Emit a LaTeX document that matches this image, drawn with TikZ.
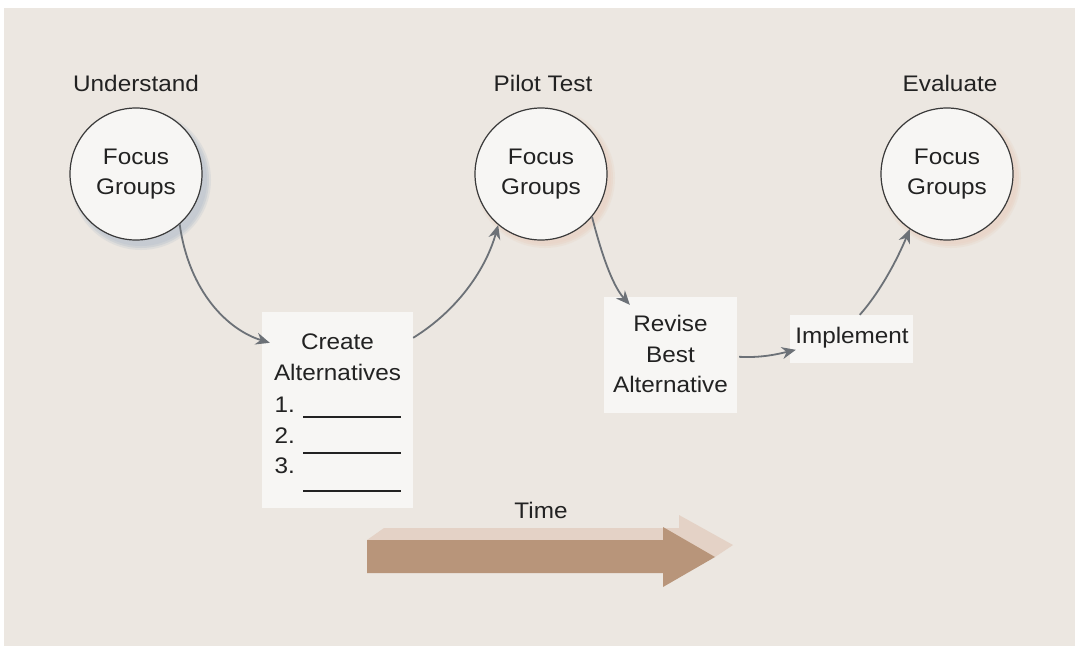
\documentclass[tikz,border=0pt]{standalone}
\usepackage{fontspec}
\setmainfont{Liberation Sans}[FakeStretch=1.08]
\usetikzlibrary{arrows.meta,calc}
\definecolor{bgbeige}{HTML}{ECE7E1}
\definecolor{paper}{HTML}{F7F6F4}
\definecolor{ink}{HTML}{222222}
\definecolor{ringline}{HTML}{3A3A3A}
\definecolor{linkgray}{HTML}{6C7177}
\definecolor{shadeblue}{HTML}{C6CBD2}
\definecolor{shadepeach}{HTML}{E9D6CA}
\definecolor{timedark}{HTML}{B8957A}
\definecolor{timelight}{HTML}{E4D2C6}
\begin{document}
\begin{tikzpicture}[x=1pt,y=1pt,
  every node/.style={text=ink, font=\fontsize{22.5}{30.5}\selectfont},
  focus/.style={circle, draw=ringline, line width=1.2pt, fill=paper,
    minimum size=132pt, inner sep=0pt, align=center},
  sheet/.style={rectangle, fill=paper, inner sep=0pt},
  stagelabel/.style={anchor=center},
  link/.style={draw=linkgray, line width=1.8pt,
    -{Stealth[length=14pt,width=12pt]}},
  blank/.style={draw=ink, line width=1.3pt}
]
\useasboundingbox (0,0) rectangle (1075,-646);
\fill[bgbeige] (4,-8) rectangle (1075,-646);

% soft shadows behind the focus-group circles
\foreach \r/\o in {70/0.35, 68/0.6, 66/1} {
  \fill[shadeblue, opacity=\o] (141,-180) circle (\r);
  \fill[shadepeach, opacity=\o] (545,-178) circle (\r);
  \fill[shadepeach, opacity=\o] (951,-178) circle (\r);
}

% focus-group circles and their stage titles
\node[focus] (u) at (136,-174) {Focus\\Groups};
\node[focus] (p) at (541,-174) {Focus\\Groups};
\node[focus] (e) at (947,-174) {Focus\\Groups};
\node[stagelabel] (ul) at (136,-83) {Understand};
\node[stagelabel] (pl) at (543,-83) {Pilot Test};
\node[stagelabel] (el) at (950,-83) {Evaluate};

% activity sheets
\node[sheet, minimum width=151pt, minimum height=196pt] (alt) at (337.5,-410) {};
\node[sheet, minimum width=133pt, minimum height=116pt] (rev) at (670.5,-355) {};
\node[sheet, minimum width=123pt, minimum height=48pt] (imp) at (851.5,-339) {};

\node[align=center] (altt) at (337.5,-357) {Create\\Alternatives};
\node[anchor=west] (n1) at (271,-405) {1.};
\node[anchor=west] (n2) at (271,-436) {2.};
\node[anchor=west] (n3) at (271,-466) {3.};
\draw[blank] (303,-417) -- (401,-417);
\draw[blank] (303,-453) -- (401,-453);
\draw[blank] (303,-491) -- (401,-491);

\node[align=center] (revt) at (670.5,-354) {Revise\\Best\\Alternative};
\node (impt) at (852,-338) {Implement};

% connectors
\coordinate (altin) at ($(alt.north west)+(8,-31)$);
\coordinate (altout) at ($(alt.north east)+(0,-26)$);
\coordinate (revin) at ($(rev.north west)+(26,-8)$);
\coordinate (revout) at ($(rev.north east)+(2,-60)$);
\coordinate (impin) at ($(imp.north west)+(6,-35)$);
\coordinate (impout) at ($(imp.north west)+(70,0)$);

\path[link] (u.-49) .. controls (189,-292) and (228,-330) .. (altin);
\path[link] (altout) .. controls (455,-312) and (485,-272) .. (p.230);
\path[link] (p.-40) .. controls (601,-252) and (612,-285) .. (revin);
\path[link] (revout) .. controls (762,-358) and (778,-354) .. (impin);
\path[link] (impout) .. controls (880,-292) and (897,-260) .. (e.236);

% time arrow with its lighter raised face
\fill[timelight] (367,-540) -- (384,-528) -- (679,-528) -- (679,-515)
  -- (733,-545) -- (715,-557) -- (663,-545) -- cycle;
\fill[timedark] (367,-540) -- (663,-540) -- (663,-527) -- (715,-557)
  -- (663,-587) -- (663,-573) -- (367,-573) -- cycle;
\node (time) at (541,-510) {Time};
\end{tikzpicture}
\end{document}
